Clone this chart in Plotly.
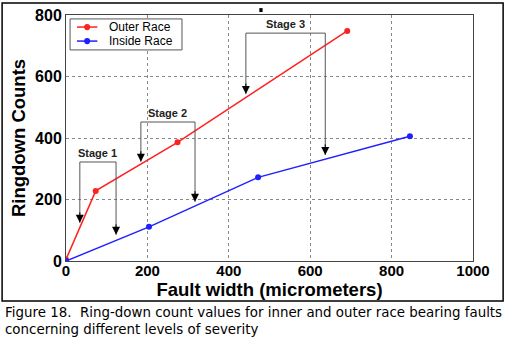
import plotly.graph_objects as go

# Data
outer_x = [0, 73, 274, 691]
outer_y = [5, 228, 386, 748]
inner_x = [0, 204, 472, 845]
inner_y = [0, 111, 272, 406]
series_names = ["Outer Race", "Inside Race"]
series_colors = ["#ff2020", "#2020ff"]

stage_labels = ["Stage 1", "Stage 2", "Stage 3"]
stage_left_x = [34, 184, 442]
stage_right_x = [123, 317, 637]
stage_top_y = [322, 452, 741]
stage_left_tip = [124, 323, 543]
stage_right_tip = [85, 193, 345]

x_ticks = [0, 200, 400, 600, 800, 1000]
y_ticks = [0, 200, 400, 600, 800]

fig = go.Figure()
for xs, ys, nm, col in ((outer_x, outer_y, series_names[0], series_colors[0]),
                        (inner_x, inner_y, series_names[1], series_colors[1])):
    fig.add_trace(go.Scatter(x=xs, y=ys, mode="lines+markers", name=nm, showlegend=False,
                             line=dict(color=col, width=1.5), marker=dict(size=6, color=col)))

shapes = []
annotations = []
for lab, xl, xr, top, tl, tr in zip(stage_labels, stage_left_x, stage_right_x, stage_top_y,
                                    stage_left_tip, stage_right_tip):
    shapes.append(dict(type="path", xref="x", yref="y",
                       path=f"M {xl},{tl} L {xl},{top} L {xr},{top} L {xr},{tr}",
                       line=dict(color="#555555", width=1)))
    for xx, tip in ((xl, tl), (xr, tr)):
        annotations.append(dict(x=xx, y=tip, xref="x", yref="y", ax=0, ay=-12,
                                text="", showarrow=True, arrowhead=2, arrowsize=1.6,
                                arrowwidth=1, arrowcolor="#000000"))
    annotations.append(dict(x=(xl + xr) / 2, y=top, xref="x", yref="y", text=f"<b>{lab}</b>",
                            showarrow=False, yanchor="bottom", yshift=1,
                            font=dict(family="Liberation Sans", size=11, color="#222222")))

# legend drawn manually (paper coords)
shapes.append(dict(type="rect", xref="paper", yref="paper", x0=0.010, x1=0.285, y0=0.858, y1=0.984,
                   line=dict(color="#555555", width=1), fillcolor="white"))
for i, (nm, col) in enumerate(zip(series_names, series_colors)):
    yy = 0.951 - i * 0.057
    shapes.append(dict(type="line", xref="paper", yref="paper", x0=0.027, x1=0.077, y0=yy, y1=yy,
                       line=dict(color=col, width=1.5)))
    shapes.append(dict(type="circle", xref="paper", yref="paper", x0=0.052 - 0.0075, x1=0.052 + 0.0075,
                       y0=yy - 0.0125, y1=yy + 0.0125, line=dict(color=col, width=0), fillcolor=col))
    annotations.append(dict(x=0.1, y=yy, xref="paper", yref="paper", xanchor="left", yanchor="middle",
                            text=nm, showarrow=False,
                            font=dict(family="Liberation Sans", size=12, color="#000000")))

# outer frame
shapes.append(dict(type="rect", xref="paper", yref="paper", x0=-0.157, x1=1.074, y0=-0.163, y1=1.049,
                   line=dict(color="#000000", width=1.5), fillcolor="rgba(0,0,0,0)", layer="below"))
# small mark at top
shapes.append(dict(type="rect", xref="paper", yref="paper", x0=0.475, x1=0.483, y0=1.012, y1=1.028,
                   line=dict(width=0), fillcolor="#000000"))

annotations.append(dict(x=-0.155, y=-0.172, xref="paper", yref="paper", xanchor="left", yanchor="top",
                        align="left", showarrow=False,
                        text="Figure 18.  Ring-down count values for inner and outer race bearing faults<br>concerning different levels of severity",
                        font=dict(family="DejaVu Sans", size=13.4, color="#000000")))

fig.update_layout(
    width=506, height=342,
    margin=dict(l=66, r=33, t=15, b=81),
    paper_bgcolor="white", plot_bgcolor="white",
    showlegend=False,
    shapes=shapes, annotations=annotations,
)
fig.update_xaxes(range=[0, 1000], tickvals=x_ticks, ticktext=[f"<b>{v}</b>" for v in x_ticks],
                 showgrid=True, gridcolor="#888888", griddash="dot", automargin=False,
                 gridwidth=1, showline=True, linecolor="#444444", linewidth=1, mirror=True,
                 zeroline=False, ticks="", ticklabelstandoff=-4,
                 tickfont=dict(family="Liberation Sans", size=15, color="#000000"),
                 title=dict(text="<b>Fault width (micrometers)</b>", standoff=0,
                            font=dict(family="Liberation Sans", size=18.5, color="#000000")))
fig.update_yaxes(range=[0, 800], tickvals=y_ticks, ticktext=[f"<b>{v}</b>" for v in y_ticks],
                 showgrid=True, gridcolor="#888888", griddash="dot", automargin=False,
                 gridwidth=1, showline=True, linecolor="#444444", linewidth=1, mirror=True,
                 zeroline=False, ticks="", tickfont=dict(family="Liberation Sans", size=16, color="#000000"),
                 title=dict(text="<b>Ringdown Counts</b>", standoff=4,
                            font=dict(family="Liberation Sans", size=18.5, color="#000000")))

fig.write_html("out.html", config={"displayModeBar": False},
               post_script="document.body.style.margin='0';")
